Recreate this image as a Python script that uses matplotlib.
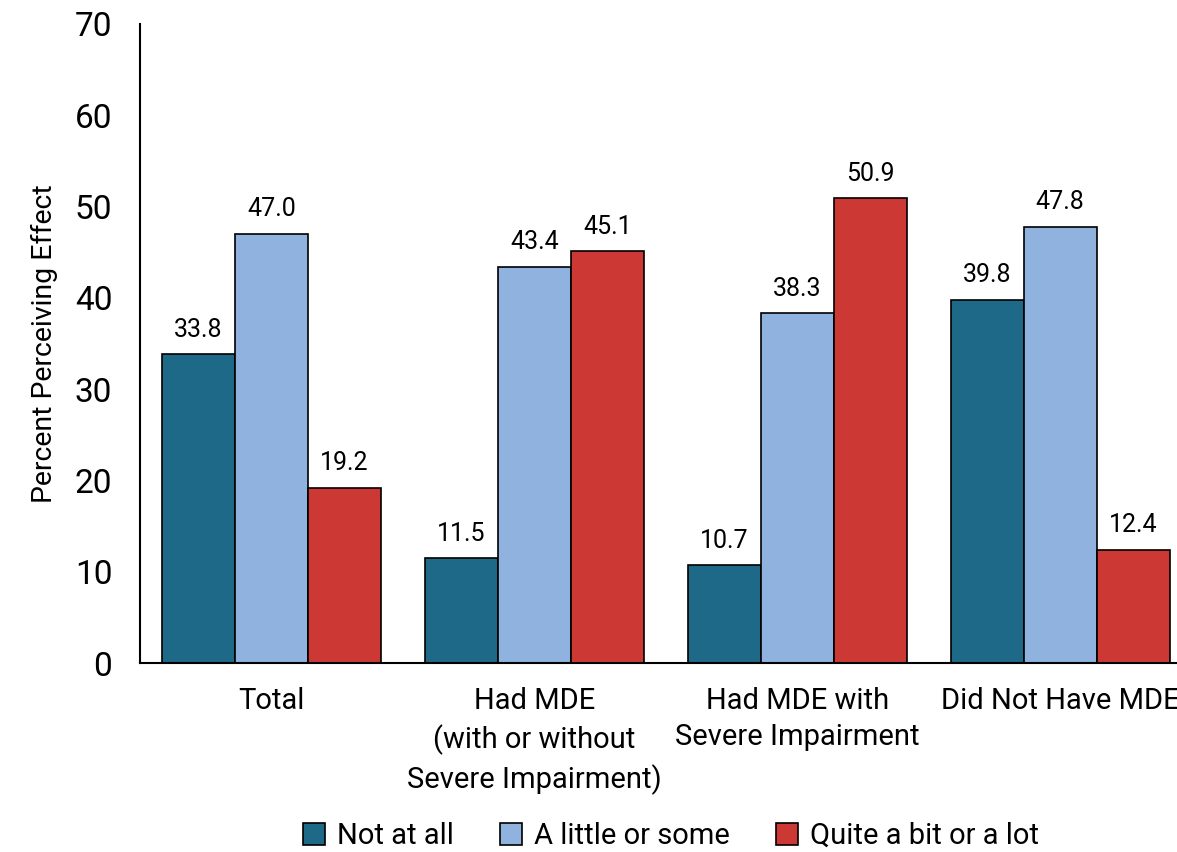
import matplotlib
matplotlib.use("Agg")
import matplotlib.pyplot as plt
import numpy as np

categories = ["Total", "Had MDE\n(with or without\nSevere Impairment)",
              "Had MDE with\nSevere Impairment", "Did Not Have MDE"]
series_names = ["Not at all", "A little or some", "Quite a bit or a lot"]
not_at_all = [33.8, 11.5, 10.7, 39.8]
little_some = [47.0, 43.4, 38.3, 47.8]
quite_lot = [19.2, 45.1, 50.9, 12.4]
series_colors = ["#1E6987", "#8FB3DE", "#CC3935"]
y_ticks = [0, 10, 20, 30, 40, 50, 60, 70]

plt.rcParams["font.family"] = ["Roboto", "DejaVu Sans"]

fig = plt.figure(figsize=(11.77, 8.52), dpi=100)
ax = fig.add_axes([140 / 1177, 189 / 852, 1051.5 / 1177, 639 / 852])

x = np.arange(len(categories))
width = 0.2776
for i, (vals, name, color) in enumerate(zip([not_at_all, little_some, quite_lot],
                                             series_names, series_colors)):
    pos = x + (i - 1) * width
    bars = ax.bar(pos, vals, width, color=color, edgecolor="black",
                  linewidth=1.2, label=name)
    for b, v in zip(bars, vals):
        ax.annotate(f"{v:.1f}", (b.get_x() + b.get_width() / 2, v),
                    xytext=(0, 9), textcoords="offset points",
                    ha="center", va="bottom", fontsize=18)

ax.set_xlim(-0.5, 3.5)
ax.set_ylim(0, 70)
ax.set_yticks(y_ticks)
ax.set_yticklabels([str(t) for t in y_ticks], fontsize=24)
ax.set_xticks(x)
ax.set_xticklabels(categories, fontsize=21, linespacing=1.4)
ax.tick_params(axis="y", length=0, pad=20)
ax.tick_params(axis="x", length=0, pad=17)
ax.set_ylabel("Percent Perceiving Effect", fontsize=20.5, labelpad=12)
ax.spines["top"].set_visible(False)
ax.spines["right"].set_visible(False)
ax.spines["left"].set_linewidth(1.5)
ax.spines["bottom"].set_linewidth(1.5)

fig.legend(loc="center", bbox_to_anchor=(671 / 1177, 1 - 836 / 852), ncol=3,
           frameon=False, fontsize=21, handlelength=0.75, handleheight=0.75,
           handletextpad=0.4, columnspacing=1.6)

fig.savefig("out.png", dpi=100, facecolor="white")
